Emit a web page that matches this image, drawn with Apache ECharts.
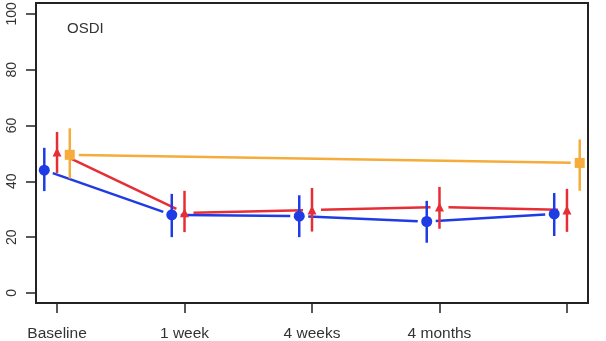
<!DOCTYPE html>
<html>
<head>
<meta charset="utf-8">
<script src="https://cdn.jsdelivr.net/npm/echarts@6/dist/echarts.min.js"></script>
<style>
html,body{margin:0;padding:0;background:#fff;}
#chart{width:606px;height:341px;}
</style>
</head>
<body>
<div id="chart"></div>
<script>
// ---- data ----
const categories = ['Baseline', '1 week', '4 weeks', '4 months', ''];
const yTicks = [0, 20, 40, 60, 80, 100];

const blueMean = [44, 28, 27.5, 25.6, 28.3];
const blueLow  = [36.5, 20, 20, 18, 20.4];
const blueHigh = [52, 35.5, 35, 33, 35.8];

const redMean = [50.5, 28.7, 29.7, 30.8, 29.7];
const redLow  = [43, 21.8, 22, 23, 21.9];
const redHigh = [57.7, 36.6, 37.6, 38, 37.3];

const orangeMean = [49.5, null, null, null, 46.6];
const orangeLow  = [41, null, null, null, 36.6];
const orangeHigh = [59, null, null, null, 55];

// ---- styling ----
const BLUE = '#1f3be4';
const RED = '#e62e36';
const ORANGE = '#f5ac3a';
const OFF = 0.1;
const FONT = 'Liberation Sans, Arial, sans-serif';

function segs(mean, off) {
  const out = [];
  let prev = null;
  mean.forEach((v, i) => {
    if (v == null) return;
    if (prev) out.push([prev[0], prev[1], i + off, v]);
    prev = [i + off, v];
  });
  return out;
}
function bars(low, high, off) {
  const out = [];
  low.forEach((l, i) => { if (l != null) out.push([i + off, l, high[i]]); });
  return out;
}
function pts(mean, off) {
  const out = [];
  mean.forEach((v, i) => { if (v != null) out.push([i + off, v]); });
  return out;
}

function lineSeries(mean, off, color) {
  return {
    type: 'custom',
    data: segs(mean, off),
    encode: { x: [0, 2], y: [1, 3] },
    silent: true,
    renderItem: function (params, api) {
      const a = api.coord([api.value(0), api.value(1)]);
      const b = api.coord([api.value(2), api.value(3)]);
      const dx = b[0] - a[0], dy = b[1] - a[1];
      const len = Math.sqrt(dx * dx + dy * dy);
      const g = 9;
      const ux = dx / len, uy = dy / len;
      return {
        type: 'line',
        shape: { x1: a[0] + ux * g, y1: a[1] + uy * g, x2: b[0] - ux * g, y2: b[1] - uy * g },
        style: { stroke: color, lineWidth: 2.5 }
      };
    }
  };
}
function errSeries(low, high, off, color) {
  return {
    type: 'custom',
    data: bars(low, high, off),
    encode: { x: 0, y: [1, 2] },
    silent: true,
    renderItem: function (params, api) {
      const a = api.coord([api.value(0), api.value(1)]);
      const b = api.coord([api.value(0), api.value(2)]);
      return {
        type: 'line',
        shape: { x1: a[0], y1: a[1], x2: b[0], y2: b[1] },
        style: { stroke: color, lineWidth: 2.5 }
      };
    }
  };
}
function markSeries(mean, off, color, symbol, size) {
  return {
    type: 'scatter',
    data: pts(mean, off),
    symbol: symbol,
    symbolSize: size,
    itemStyle: { color: color, opacity: 1 },
    silent: true
  };
}

const chart = echarts.init(document.getElementById('chart'), null, { renderer: 'canvas' });
chart.setOption({
  animation: false,
  backgroundColor: '#fff',
  grid: {
    left: 36, top: 3, width: 552, height: 300,
    outerBoundsMode: 'none', containLabel: false,
    show: true, borderColor: '#222', borderWidth: 2, backgroundColor: 'transparent'
  },
  xAxis: {
    type: 'value',
    min: -0.165, max: 4.165,
    axisLine: { show: false, onZero: false },
    splitLine: { show: false },
    axisTick: {
      show: true, length: 10, inside: false,
      customValues: [0, 1, 2, 3, 4],
      lineStyle: { color: '#222', width: 1.5 }
    },
    axisLabel: {
      customValues: [0, 1, 2, 3],
      formatter: v => categories[Math.round(v)],
      margin: 23,
      color: '#333', fontSize: 15.5, fontFamily: FONT
    }
  },
  yAxis: {
    type: 'value',
    min: -3.6, max: 103.9,
    axisLine: { show: false, onZero: false },
    splitLine: { show: false },
    axisTick: {
      show: true, length: 10, inside: false,
      customValues: yTicks,
      lineStyle: { color: '#222', width: 1.5 }
    },
    axisLabel: {
      customValues: yTicks,
      rotate: 90,
      margin: 17,
      color: '#333', fontSize: 14, fontFamily: FONT
    }
  },
  graphic: [{
    type: 'text', left: 67, top: 21,
    style: { text: 'OSDI', fill: '#333', font: '15px ' + FONT }
  }],
  series: [
    lineSeries(orangeMean, OFF, ORANGE),
    lineSeries(blueMean, -OFF, BLUE),
    lineSeries(redMean, 0, RED),
    errSeries(orangeLow, orangeHigh, OFF, ORANGE),
    errSeries(blueLow, blueHigh, -OFF, BLUE),
    errSeries(redLow, redHigh, 0, RED),
    markSeries(orangeMean, OFF, ORANGE, 'rect', 10),
    markSeries(blueMean, -OFF, BLUE, 'circle', 11),
    markSeries(redMean, 0, RED, 'triangle', 9)
  ]
});
</script>
</body>
</html>
